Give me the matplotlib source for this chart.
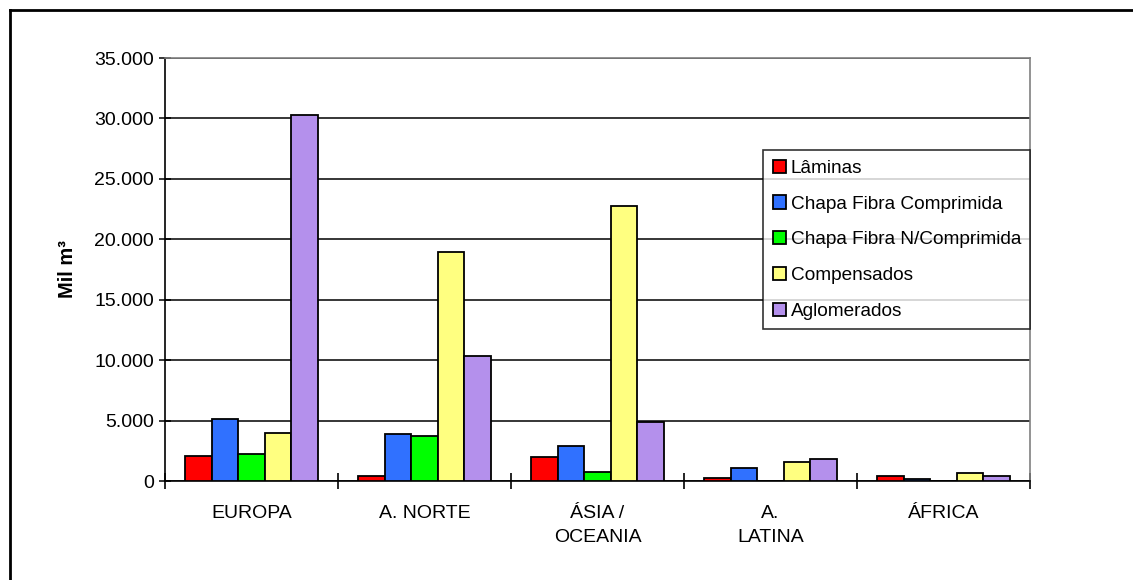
import matplotlib
matplotlib.use("Agg")
import matplotlib.pyplot as plt
import numpy as np
from matplotlib.lines import Line2D

plt.rcParams['font.family'] = ['Liberation Sans', 'DejaVu Sans']

categories = ["EUROPA", "A. NORTE", "ÁSIA /\nOCEANIA", "A.\nLATINA", "ÁFRICA"]
series_names = ["Lâminas", "Chapa Fibra Comprimida", "Chapa Fibra N/Comprimida",
                "Compensados", "Aglomerados"]
laminas = [2100, 400, 1950, 250, 400]
chapa_comp = [5150, 3850, 2900, 1050, 150]
chapa_ncomp = [2250, 3700, 780, 0, 0]
compensados = [3950, 18950, 22750, 1600, 650]
aglomerados = [30300, 10350, 4900, 1850, 400]
colors = ["#ff0000", "#3071ff", "#00ff00", "#ffff80", "#b490ec"]
yticks = [0, 5000, 10000, 15000, 20000, 25000, 30000, 35000]
ytick_labels = ["0", "5.000", "10.000", "15.000", "20.000", "25.000", "30.000", "35.000"]

data = [laminas, chapa_comp, chapa_ncomp, compensados, aglomerados]
FS = 14

fig = plt.figure(figsize=(11.33, 5.8), dpi=100)
ax = fig.add_axes([165/1133, 1-481/580, (1030-165)/1133, (481-58)/580])

x = np.arange(len(categories))
w = 0.153
for i, (vals, name, c) in enumerate(zip(data, series_names, colors)):
    ax.bar(x + (i - 2) * w, vals, width=w, color=c, edgecolor="black",
           linewidth=1.3, label=name, zorder=3)

ax.set_xlim(-0.5, len(categories) - 0.5)
ax.set_ylim(0, 35000)
ax.set_yticks(yticks)
ax.set_yticklabels(ytick_labels, fontsize=FS)
ax.yaxis.grid(True, color="black", linewidth=1.1, zorder=0)
ax.set_axisbelow(True)

ax.set_xticks(np.arange(len(categories) + 1) - 0.5)
ax.set_xticklabels([])
ax.set_xticks(x, minor=True)
ax.set_xticklabels(categories, minor=True, fontsize=FS, va="top", linespacing=1.55)
ax.tick_params(axis="x", which="minor", length=0, pad=17)
ax.tick_params(axis="x", which="major", direction="inout", length=12, width=1.2)
ax.tick_params(axis="y", direction="inout", length=8, width=1.1, pad=4)

for s in ["left", "bottom"]:
    ax.spines[s].set_color("black")
    ax.spines[s].set_linewidth(1.2)
for s in ["top", "right"]:
    ax.spines[s].set_color("#808080")
    ax.spines[s].set_linewidth(1.2)

ax.set_ylabel("Mil m³", fontsize=14.5, fontweight="bold", labelpad=12)

leg = ax.legend(loc="upper left", bbox_to_anchor=((763-165)/865, 1-(150-58)/423),
                fontsize=13.7, frameon=True, fancybox=False, edgecolor="black",
                handlelength=0.7, handleheight=0.7, handletextpad=0.25,
                labelspacing=0.97, borderpad=0.5, borderaxespad=0)
leg.get_frame().set_linewidth(1.2)

# outer border (only top and left visible within image)
fig.add_artist(Line2D([10/1133, 10/1133], [0, 1-10/580], color="black", linewidth=2,
                      transform=fig.transFigure))
fig.add_artist(Line2D([10/1133, 1], [1-10/580, 1-10/580], color="black", linewidth=2,
                      transform=fig.transFigure))

fig.savefig("out.png", dpi=100)
